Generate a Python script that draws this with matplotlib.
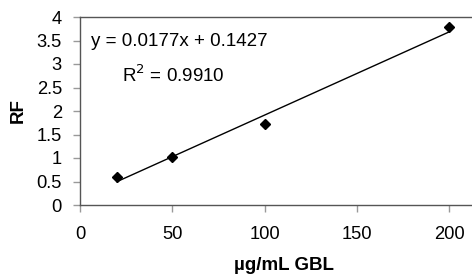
import matplotlib
matplotlib.use("Agg")
import matplotlib.pyplot as plt
import numpy as np

plt.rcParams['font.family'] = ['Liberation Sans', 'DejaVu Sans']

conc = [20, 50, 100, 200]
rf = [0.60, 1.02, 1.72, 3.78]
slope = 0.0177
intercept = 0.1427
r2 = 0.9910
xticks = [0, 50, 100, 150, 200]
yticks = [0, 0.5, 1, 1.5, 2, 2.5, 3, 3.5, 4]
ytick_labels = ['0', '0.5', '1', '1.5', '2', '2.5', '3', '3.5', '4']

fig = plt.figure(figsize=(4.72, 2.76), dpi=100)
ax = fig.add_axes([80/472, 1 - 205/276, 392/472, 188/276])

ax.plot(conc, rf, linestyle='none', marker='D', markersize=5, color='black')
xf = np.array([conc[0], conc[-1]])
ax.plot(xf, slope * xf + intercept, color='black', linewidth=1)

ax.set_xlim(0, 212.4)
ax.set_ylim(0, 4)
ax.set_xticks(xticks)
ax.set_yticks(yticks)
ax.set_yticklabels(ytick_labels)
ax.tick_params(axis='both', direction='out', length=5, width=1, color='#999999',
               labelsize=13.2, labelcolor='black')
ax.tick_params(axis='x', pad=10)
ax.tick_params(axis='y', pad=8)
for s in ['left', 'bottom', 'top']:
    ax.spines[s].set_color('#555555')
    ax.spines[s].set_linewidth(1)
ax.spines['right'].set_visible(False)

ax.set_xlabel('µg/mL GBL', fontsize=13.5, fontweight='bold')
ax.xaxis.set_label_coords(0.52, -0.275)
ax.set_ylabel('RF', fontsize=13.5, fontweight='bold')
ax.yaxis.set_label_coords(-0.135, 0.5)

ax.text(6, 3.47, f'y = {slope:.4f}x + {intercept:.4f}', fontsize=13.5, va='center', ha='left')
ax.text(22.5, 2.75, f'R$^2$ = {r2:.4f}', fontsize=13.5, va='center', ha='left')

fig.savefig('out.png', dpi=100)
